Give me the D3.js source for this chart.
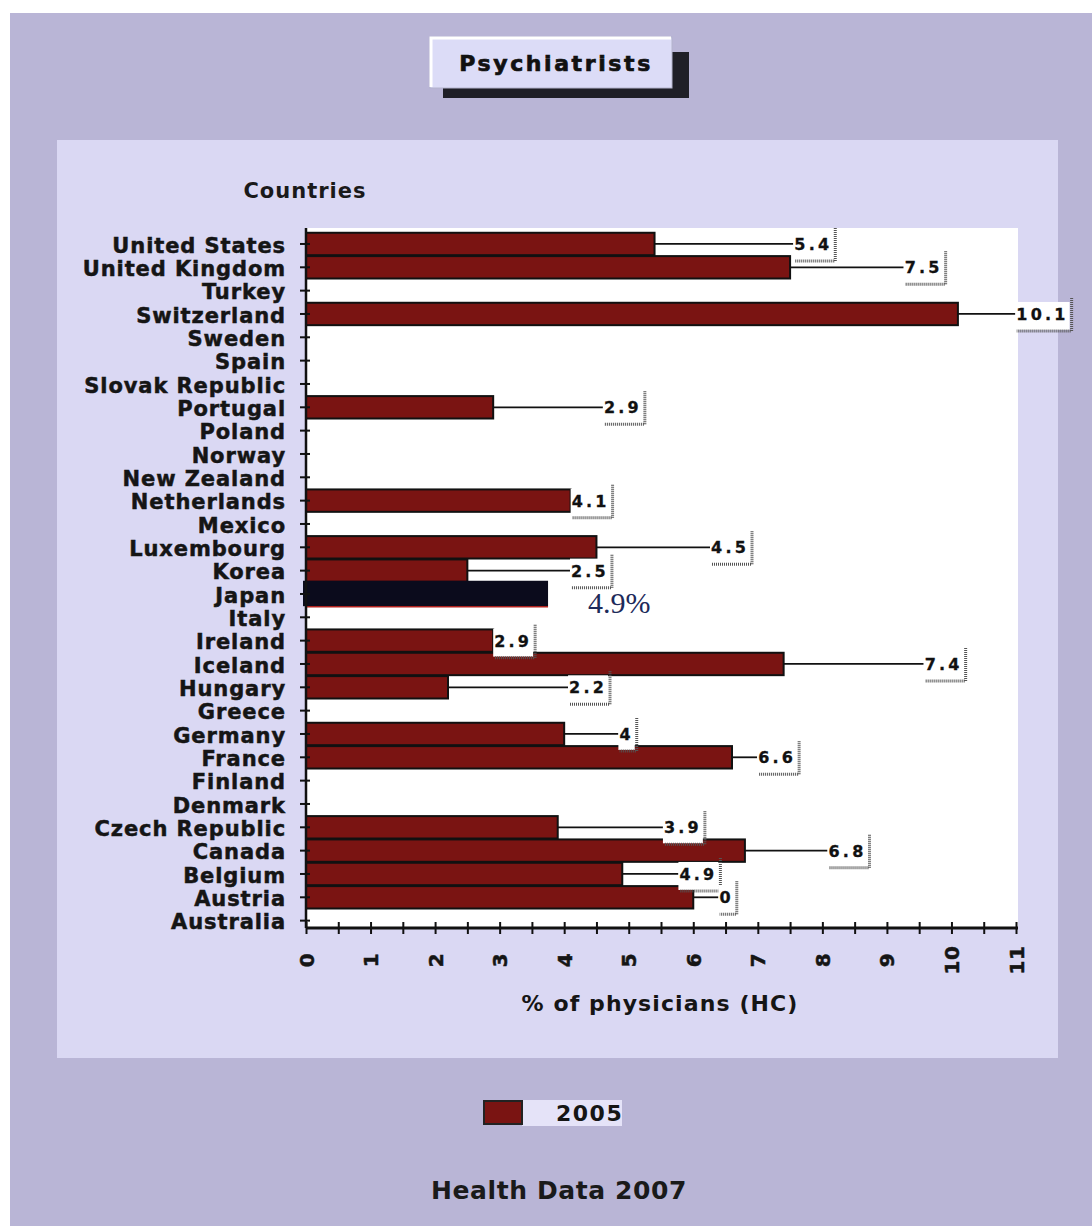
<!DOCTYPE html>
<html>
<head>
<meta charset="utf-8">
<script src="https://cdn.jsdelivr.net/npm/d3@7"></script>
<style>
  body { margin: 0; background: #fff; }
  svg text { font-family: "DejaVu Sans", Verdana, sans-serif; font-weight: bold; }
</style>
</head>
<body>
<div id="chart"></div>
<script>
// countries as listed on the chart, top to bottom
var countries = ["United States", "United Kingdom", "Turkey", "Switzerland", "Sweden", "Spain",
    "Slovak Republic", "Portugal", "Poland", "Norway", "New Zealand", "Netherlands", "Mexico",
    "Luxembourg", "Korea", "Japan", "Italy", "Ireland", "Iceland", "Hungary", "Greece", "Germany",
    "France", "Finland", "Denmark", "Czech Republic", "Canada", "Belgium", "Austria", "Australia"];

// psychiatrists, % of physicians (HC), 2005
var values2005 = [5.4, 7.5, null, 10.1, null, null, null, 2.9, null, null, null, 4.1, null,
    4.5, 2.5, null, null, 2.9, 7.4, 2.2, null, 4, 6.6, null, null, 3.9, 6.8, 4.9, 6.0, null];

// data labels as printed on the chart
var valueLabels = ["5.4", "7.5", "", "10.1", "", "", "", "2.9", "", "", "", "4.1", "",
    "4.5", "2.5", "", "", "2.9", "7.4", "2.2", "", "4", "6.6", "", "", "3.9", "6.8", "4.9", "0", ""];

// pasted-over bar for Japan and its note
var highlightCountry = "Japan";
var highlightValue = 3.75;
var highlightNote = "4.9%";

var xTickLabels = [0, 1, 2, 3, 4, 5, 6, 7, 8, 9, 10, 11];
var seriesName = "2005";

// leader line length for each label, in axis units (layout only)
var leaderLength = [2.15, 1.76, 0, 0.89, 0, 0, 0, 1.7, 0, 0, 0, 0, 0,
    1.76, 1.59, 0, 0, 0, 2.17, 1.86, 0, 0.84, 0.39, 0, 0, 1.63, 1.28, 0.87, 0.39, 0];

var width = 1092, height = 1226;
var barColor = "#7a1412";

var svg = d3.select("#chart").append("svg")
    .attr("width", width)
    .attr("height", height);

// backgrounds
svg.append("rect").attr("x", 10).attr("y", 13).attr("width", width - 10).attr("height", height - 13)
    .attr("fill", "#b9b5d6");
svg.append("rect").attr("x", 57).attr("y", 140).attr("width", 1001).attr("height", 918)
    .attr("fill", "#dad8f3");

// title button
svg.append("rect").attr("x", 443).attr("y", 52).attr("width", 246).attr("height", 46)
    .attr("fill", "#1f1f27");
svg.append("rect").attr("x", 430).attr("y", 37).attr("width", 242).attr("height", 51)
    .attr("fill", "#dcdcf7").attr("stroke", "#b4b4cc").attr("stroke-width", 1);
svg.append("path").attr("d", "M431,87 L431,38 L671,38")
    .attr("fill", "none").attr("stroke", "#fff").attr("stroke-width", 3);
svg.append("text").attr("x", 556).attr("y", 71)
    .attr("text-anchor", "middle")
    .attr("font-size", 22).attr("letter-spacing", 2.6)
    .attr("fill", "#111").attr("stroke", "#111").attr("stroke-width", 0.7)
    .text("Psychiatrists");

// plot area
var plotLeft = 306, plotRight = 1018, plotTop = 228, axisY = 928;
svg.append("rect").attr("x", plotLeft).attr("y", plotTop)
    .attr("width", plotRight - plotLeft).attr("height", axisY - plotTop)
    .attr("fill", "#fff");

var x = d3.scaleLinear().domain([0, 11]).range([plotLeft, 1016]);
var y = d3.scaleBand().domain(countries).range([232.3, 932.3]).paddingInner(0.04).paddingOuter(0.02);

svg.append("text").attr("x", 305).attr("y", 198)
    .attr("text-anchor", "middle").attr("font-size", 21).attr("letter-spacing", 1)
    .attr("fill", "#1a1a1a")
    .text("Countries");

var rows = countries.map(function (c, i) {
    return {country: c, value: values2005[i], label: valueLabels[i], leader: leaderLength[i]};
});

// bars
svg.append("g").selectAll("rect")
    .data(rows.filter(function (d) { return d.value !== null; }))
    .enter().append("rect")
    .attr("x", x(0))
    .attr("y", function (d) { return y(d.country); })
    .attr("width", function (d) { return x(d.value) - x(0); })
    .attr("height", y.bandwidth())
    .attr("fill", barColor)
    .attr("stroke", "#111")
    .attr("stroke-width", 2);

// highlighted Japan bar
var hy = y(highlightCountry);
svg.append("rect")
    .attr("x", x(0) - 3).attr("y", hy - 2)
    .attr("width", x(highlightValue) - x(0) + 3).attr("height", y.bandwidth() + 3)
    .attr("fill", "#0b0b1c");
svg.append("line")
    .attr("x1", x(0)).attr("x2", x(highlightValue))
    .attr("y1", hy + y.bandwidth() + 1.5).attr("y2", hy + y.bandwidth() + 1.5)
    .attr("stroke", "#b0201c").attr("stroke-width", 1.5);
svg.append("text")
    .attr("x", x(highlightValue) + 40).attr("y", hy + y.bandwidth() + 8)
    .style("font-family", "'Liberation Serif', 'DejaVu Serif', serif")
    .style("font-weight", "normal")
    .attr("font-size", 30)
    .attr("fill", "#1d2a5a")
    .text(highlightNote);

// y axis
var yAxis = svg.append("g")
    .attr("transform", "translate(" + plotLeft + ",0)")
    .call(d3.axisLeft(y).tickSize(6).tickPadding(14));
yAxis.select(".domain").attr("d", "M0," + plotTop + "V" + axisY).attr("stroke", "#111").attr("stroke-width", 2.5);
yAxis.selectAll(".tick line").attr("x1", 4).attr("stroke", "#111").attr("stroke-width", 2);
yAxis.selectAll(".tick text")
    .attr("font-size", 21).attr("letter-spacing", 0.9)
    .attr("dy", "0.42em")
    .attr("fill", "#151515").attr("stroke", "#151515").attr("stroke-width", 0.5);

// x axis
var xAxis = svg.append("g")
    .attr("transform", "translate(0," + axisY + ")")
    .call(d3.axisBottom(x).tickValues(d3.range(0, 11.5, 0.5)).tickSize(6)
        .tickFormat(function (d) { return xTickLabels.indexOf(d) >= 0 ? d : ""; }));
xAxis.select(".domain").attr("d", "M" + plotLeft + ",0H" + (x(11) + 2)).attr("stroke", "#111").attr("stroke-width", 3);
xAxis.selectAll(".tick line").attr("y1", -6).attr("stroke", "#111").attr("stroke-width", 2);
xAxis.selectAll(".tick text")
    .attr("font-size", 20).attr("letter-spacing", 0.5)
    .attr("fill", "#151515").attr("stroke", "#151515").attr("stroke-width", 0.5)
    .attr("text-anchor", "middle")
    .attr("dy", null)
    .attr("y", 0)
    .attr("transform", "translate(7,32) rotate(-90)");

svg.append("text").attr("x", 660).attr("y", 1011)
    .attr("text-anchor", "middle").attr("font-size", 22).attr("letter-spacing", 1.1)
    .attr("fill", "#151515")
    .text("% of physicians (HC)");

// data labels with leader lines
var labelled = rows.filter(function (d) { return d.value !== null && d.label !== ""; });
var lab = svg.append("g").selectAll("g")
    .data(labelled)
    .enter().append("g");

lab.append("line")
    .attr("x1", function (d) { return x(d.value); })
    .attr("x2", function (d) { return x(d.value + d.leader); })
    .attr("y1", function (d) { return y(d.country) + y.bandwidth() / 2; })
    .attr("y2", function (d) { return y(d.country) + y.bandwidth() / 2; })
    .attr("stroke", "#111").attr("stroke-width", 1.8);

lab.each(function (d) {
    var g = d3.select(this);
    var cy = y(d.country) + y.bandwidth() / 2;
    var tx = x(d.value + d.leader) + 1;
    var t = g.append("text")
        .attr("x", tx).attr("y", cy + 6)
        .attr("font-size", 16).attr("letter-spacing", 3.2)
        .attr("fill", "#111").attr("stroke", "#111").attr("stroke-width", 0.3)
        .text(d.label);
    var w = t.node().getComputedTextLength();
    var bx = tx - 1, bw = w + 2;
    g.insert("rect", "text")
        .attr("x", bx).attr("y", cy - 12).attr("width", bw).attr("height", 28)
        .attr("fill", "#fff");
    g.append("path")
        .attr("d", "M" + (bx + bw + 2) + "," + (cy - 16) + "V" + (cy + 17) + "H" + (bx + 1))
        .attr("fill", "none").attr("stroke", "#555").attr("stroke-width", 3)
        .attr("stroke-dasharray", "1,1");
});

// legend
svg.append("rect").attr("x", 522).attr("y", 1100).attr("width", 100).attr("height", 26)
    .attr("fill", "#e5e3f8");
svg.append("rect").attr("x", 484).attr("y", 1101).attr("width", 38).attr("height", 23)
    .attr("fill", barColor).attr("stroke", "#222").attr("stroke-width", 2);
svg.append("text").attr("x", 556).attr("y", 1121)
    .attr("font-size", 22).attr("letter-spacing", 1.5)
    .attr("fill", "#151515")
    .text(seriesName);

// footer
svg.append("text").attr("x", 559).attr("y", 1199)
    .attr("text-anchor", "middle").attr("font-size", 25).attr("letter-spacing", 0.6)
    .attr("fill", "#1a1a1a")
    .text("Health Data 2007");
</script>
</body>
</html>
